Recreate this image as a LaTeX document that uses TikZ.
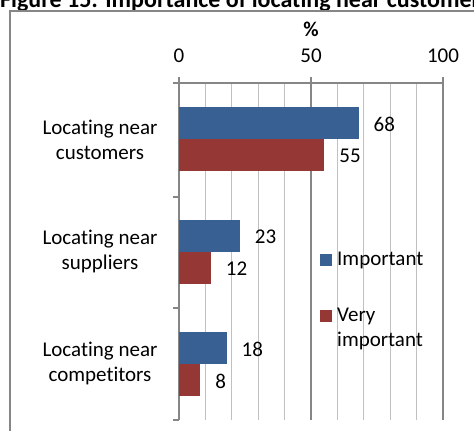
\documentclass[tikz,border=0pt]{standalone}
\usepackage{fontspec}
\setmainfont{Carlito}[Ligatures=NoCommon]
\definecolor{barblue}{RGB}{57,96,146}
\definecolor{barred}{RGB}{149,55,53}
\definecolor{gridminor}{RGB}{192,192,192}
\definecolor{gridmajor}{RGB}{134,134,134}

\tikzset{
  lbl/.style={font=\fontsize{21}{25}\selectfont, inner sep=0pt},
  catlbl/.style={lbl, align=center},
  vallbl/.style={lbl, anchor=west},
  keybox/.style={minimum size=12pt, inner sep=0pt},
}

\begin{document}
\begin{tikzpicture}[x=1pt,y=-1pt]
            \useasboundingbox (0,0) rectangle (474,431);

            % title and frame (cut at the page edge)
            \node[lbl, font=\fontsize{24}{28}\selectfont\bfseries, anchor=base west] (title) at (0,8)
                {Figure 15: Importance of locating near customers};
            \draw[gridmajor, line width=1.5pt] (10,440) -- (10,11) -- (480,11);

            % grid
            \foreach \v in {10,20,30,40,60,70,80,90}
                \draw[gridminor, line width=1.2pt] ({179+2.64*\v},83) -- ({179+2.64*\v},420);
            \foreach \v in {50,100}
                \draw[gridmajor, line width=1.2pt] ({179+2.64*\v},77) -- ({179+2.64*\v},420);
            \draw[gridmajor, line width=1.2pt] (179,77) -- (179,420);
            \draw[gridmajor, line width=1.2pt] (173,83) -- (443,83);
            \foreach \y in {197,308,420}
                \draw[gridmajor, line width=1.2pt] (173,\y) -- (179,\y);

            % value axis
            \node[lbl] (t0) at (179,56) {0};
            \node[lbl] (t50) at (311,56) {50};
            \node[lbl] (t100) at (443,56) {100};
            \node[lbl, font=\fontsize{21}{25}\selectfont\bfseries] (pct) at (311,29) {\%};

            % bars: name/top/important/very important
            \foreach \n/\t/\a/\b in {cust/107/68/55, supp/220/23/12, comp/332/18/8} {
                \fill[barblue] (179,\t) rectangle ({179+2.64*\a},\t+32);
                \fill[barred] (179,\t+32) rectangle ({179+2.64*\b},\t+64);
                \node[vallbl] (\n-a) at ({179+2.64*\a+15},\t+17) {\a};
                \node[vallbl] (\n-b) at ({179+2.64*\b+15},\t+49) {\b};
            }

            % categories
            \node[catlbl] (cust) at (100,140) {Locating near\\customers};
            \node[catlbl] (supp) at (100,251) {Locating near\\suppliers};
            \node[catlbl] (comp) at (100,363) {Locating near\\competitors};

            % legend
            \node[keybox, fill=barblue] (key-a) at (326,259.5) {};
            \node[vallbl] (leg-a) at (337,260) {Important};
            \node[keybox, fill=barred] (key-b) at (326,316) {};
            \node[vallbl, align=left] (leg-b) at (337,328.5) {Very\\important};
        \end{tikzpicture}
\end{document}
